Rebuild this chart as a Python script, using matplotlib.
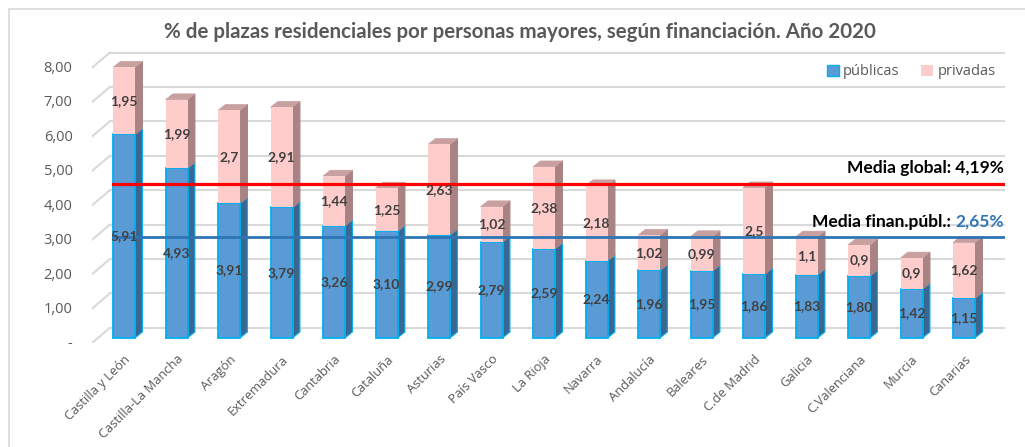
import matplotlib.pyplot as plt
from matplotlib.patches import Polygon, Patch, Rectangle
import matplotlib.transforms as mtransforms

regiones = ["Castilla y León", "Castilla-La Mancha", "Aragón", "Extremadura", "Cantabria",
            "Cataluña", "Asturias", "País Vasco", "La Rioja", "Navarra", "Andalucía",
            "Baleares", "C.de Madrid", "Galicia", "C.Valenciana", "Murcia", "Canarias"]
publicas = [5.91, 4.93, 3.91, 3.79, 3.26, 3.10, 2.99, 2.79, 2.59, 2.24, 1.96, 1.95, 1.86,
            1.83, 1.80, 1.42, 1.15]
privadas = [1.95, 1.99, 2.7, 2.91, 1.44, 1.25, 2.63, 1.02, 2.38, 2.18, 1.02, 0.99, 2.5,
            1.1, 0.9, 0.9, 1.62]
media_global = 4.19
media_publica = 2.65
yticks = [0, 1, 2, 3, 4, 5, 6, 7, 8]
ytick_labels = ["-", "1,00", "2,00", "3,00", "4,00", "5,00", "6,00", "7,00", "8,00"]

# colores
AZUL, AZUL_LADO, AZUL_TOP, AZUL_BORDE = "#5b9bd5", "#3a6791", "#8fb8df", "#00b0f0"
ROSA, ROSA_LADO, ROSA_TOP = "#ffcccc", "#a98383", "#c9a0a0"
GRIS = "#595959"

# profundidad "3D" en unidades de datos
BAR_W = 0.42
BAR_DX, BAR_DY = 0.14, 0.17
WALL_DX, WALL_DY = 0.34, 0.29
XMIN, XMAX = -0.61, 16.78
YMIN, YMAX = -0.15, 8.51

fig = plt.figure(figsize=(10.25, 4.47), dpi=100)
fig.patches.append(Rectangle((9 / 1025, -0.05), 1.1, 1 - 9 / 447 + 0.05, transform=fig.transFigure,
                             facecolor="white", edgecolor="#d9d9d9", lw=1.2, zorder=-5))
ax = fig.add_axes([92 / 1025, (447 - 343) / 447, 913 / 1025, 298 / 447])
ax.set_xlim(XMIN, XMAX)
ax.set_ylim(YMIN, YMAX)
ax.patch.set_alpha(0)
for s in ax.spines.values():
    s.set_visible(False)

# rejilla en la pared del fondo
for v in yticks:
    ax.plot([XMIN, XMIN + WALL_DX], [v + WALL_DY - 0.44, v + WALL_DY], color="#d9d9d9", lw=1.5, zorder=0)
    ax.plot([XMIN + WALL_DX, XMAX], [v + WALL_DY, v + WALL_DY], color="#d9d9d9", lw=1.5, zorder=0)


def cara_lateral(x, y0, y1, color, edge=None):
    xr = x + BAR_W / 2
    ax.add_patch(Polygon([(xr, y0), (xr + BAR_DX, y0 + BAR_DY), (xr + BAR_DX, y1 + BAR_DY), (xr, y1)],
                         closed=True, facecolor=color, edgecolor=edge or color, lw=0.8, zorder=2))


def cara_superior(x, y, color):
    xl, xr = x - BAR_W / 2, x + BAR_W / 2
    ax.add_patch(Polygon([(xl, y), (xl + BAR_DX, y + BAR_DY), (xr + BAR_DX, y + BAR_DY), (xr, y)],
                         closed=True, facecolor=color, edgecolor=color, lw=0.5, zorder=2))


x = list(range(len(regiones)))
totales = [p + q for p, q in zip(publicas, privadas)]
for i in x:
    cara_lateral(i, 0, publicas[i], AZUL_LADO, AZUL_BORDE)
    cara_lateral(i, publicas[i], totales[i], ROSA_LADO)
    cara_superior(i, totales[i], ROSA_TOP)

b1 = ax.bar(x, publicas, width=BAR_W, color=AZUL, edgecolor=AZUL_BORDE, lw=1.3, zorder=3)
b2 = ax.bar(x, privadas, bottom=publicas, width=BAR_W, color=ROSA, lw=0, zorder=3)

lab_font = dict(fontsize=10, fontweight="bold", color="#404040", family="Lato")
ax.bar_label(b1, labels=[f"{v:.2f}".replace(".", ",") for v in publicas], label_type="center",
             zorder=5, **lab_font)
ax.bar_label(b2, labels=[f"{v:g}".replace(".", ",") for v in privadas], label_type="center",
             zorder=5, **lab_font)

# medias
ax.plot([-0.21, XMAX], [media_global + WALL_DY] * 2, color="#ff0000", lw=2.3, zorder=4)
ax.plot([-0.21, XMAX], [media_publica + WALL_DY] * 2, color="#2e75b6", lw=2.0, zorder=4)
ax.text(XMAX - 0.02, media_global + WALL_DY + 0.45, "Media global: " + f"{media_global:.2f}".replace(".", ",") + "%",
        ha="right", va="center", fontsize=12.5, fontweight="bold", family="Lato", color="black", zorder=6)
t = ax.text(XMAX - 0.02, media_publica + WALL_DY + 0.43, f"{media_publica:.2f}".replace(".", ",") + "%",
            ha="right", va="center", fontsize=12.5, fontweight="bold", family="Lato", color="#2e75b6", zorder=6)
ax.annotate("Media finan.públ.: ", xy=(0, 0.5), xycoords=t, ha="right", va="center",
            fontsize=12.5, fontweight="bold", family="Lato", color="black", zorder=6)

# ejes
ax.set_yticks(yticks, ytick_labels, fontsize=10.5, color=GRIS, family="Open Sans")
ax.tick_params(axis="y", length=0, pad=14)
off = mtransforms.ScaledTranslation(0, -4 / 100, fig.dpi_scale_trans)
for lab in ax.get_yticklabels():
    lab.set_transform(lab.get_transform() + off)
ax.set_xticks(x, regiones, rotation=45, ha="right", rotation_mode="anchor",
              fontsize=9.3, color=GRIS, family="Open Sans")
ax.tick_params(axis="x", length=0, pad=7)

ax.legend(handles=[Patch(facecolor=AZUL, edgecolor=AZUL_BORDE, lw=1), Patch(facecolor=ROSA)],
          labels=["públicas", "privadas"], loc="center right", bbox_to_anchor=(1.004, 0.91),
          ncol=2, frameon=False, handlelength=0.8, handleheight=0.8, columnspacing=1.5,
          handletextpad=0.3, prop=dict(family="Open Sans", size=10.5), labelcolor=GRIS)

fig.text(520 / 1025, 1 - 32 / 447, "% de plazas residenciales por personas mayores, según financiación. Año 2020",
         ha="center", va="center", fontsize=14.8, fontweight="bold", color=GRIS, family="Lato")

fig.savefig("out.png", dpi=100)
